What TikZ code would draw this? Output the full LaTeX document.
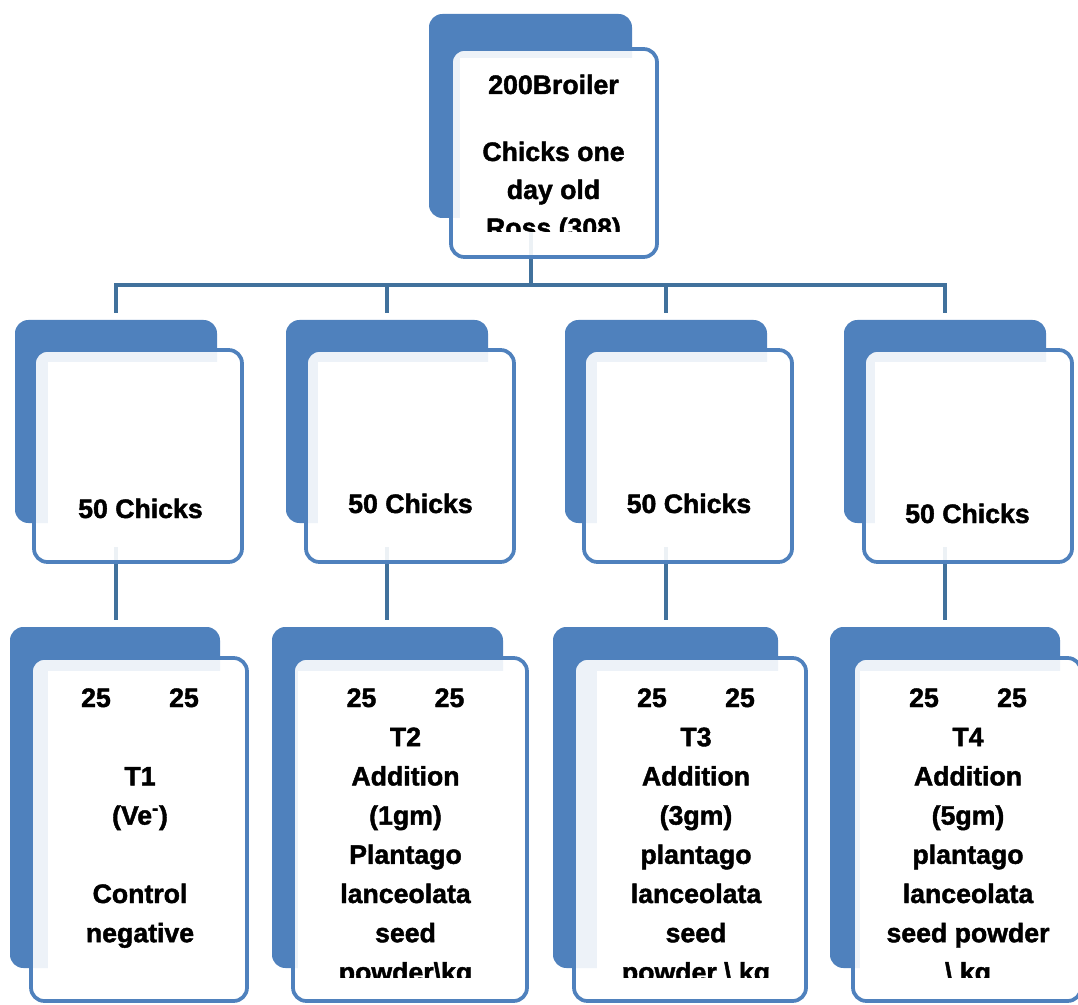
\documentclass[tikz,border=0pt]{standalone}
\usepackage{fontspec}
\setmainfont{Liberation Sans}[BoldFeatures={FakeBold=1.6}]
\usetikzlibrary{positioning,fit,backgrounds}
\definecolor{boxblue}{HTML}{4F81BD}
\definecolor{linkblue}{HTML}{41719C}
\tikzset{
  backbox/.style={fill=boxblue, rounded corners=10pt, inner sep=0pt, outer sep=0pt},
  frontbox/.style={draw=boxblue, line width=2.8pt, fill=white, fill opacity=0.9, draw opacity=1, rounded corners=10pt, inner sep=0pt, outer sep=0pt},
  textarea/.style={fill=white, inner sep=0pt, outer sep=0pt},
  chicktext/.style={font=\fontsize{20}{24}\selectfont\bfseries, anchor=base, inner sep=0pt},
  branch/.style={draw=linkblue, line width=3pt},
}

\begin{document}
\begin{tikzpicture}[x=0.75pt,y=-0.75pt]
\useasboundingbox (0,0) rectangle (1078,1005);
\clip (0,0) rectangle (1078,1005);

% top box
\node[backbox, fit={(429,14) (632,218)}] (topback) {};
\node[frontbox, fit={(451,49) (657,257)}] (top) {};
\node[textarea, fit={(460,58) (650,232)}] (topin) {};
\begin{scope}
  \clip (topin.south west) rectangle (topin.north east);
  \node[chicktext] (top-l1) at (553.5,94) {200Broiler};
  \node[chicktext] (top-l2) at (553.5,161) {Chicks one};
  \node[chicktext] (top-l3) at (553.5,199) {day old};
  \node[chicktext] (top-l4) at (553.5,237) {Ross (308)};
\end{scope}

% groups of 50
\foreach \bx/\fx/\wx/\tx/\ty [count=\i] in {15/33/48/140.5/518, 286/305/318/410.5/513, 565/583/597/689/513, 844/863/875/967.5/523}{
  \node[backbox, fit={(\bx,320) (\bx+202,523)}] (g\i-back) {};
  \node[frontbox, fit={(\fx+1,350) (\fx+209,562)}] (g\i) {};
  \node[textarea, fit={(\wx,362) (\fx+205,547)}] (g\i-in) {};
  \node[chicktext] (g\i-txt) at (\tx,\ty) {50 Chicks};
}

% treatments
\foreach \bx/\bw/\fx/\fw/\wx/\tx/\lines [count=\i] in {
    10/210/30/218/48/140/{{},T1,(Ve\textsuperscript{-}),{},Control,negative},
    272/231/292/236/298/405.5/{T2,Addition,(1gm),Plantago,lanceolata,seed,powder\textbackslash kg},
    553/225/573/234/597/696/{T3,Addition,(3gm),plantago,lanceolata,seed,powder \textbackslash{} kg},
    830/230/852/230/860/968/{T4,Addition,(5gm),plantago,lanceolata,seed powder,\textbackslash{} kg}}{
  \node[backbox, fit={(\bx,627) (\bx+\bw,968)}] (t\i-back) {};
  \node[frontbox, fit={(\fx+1,658) (\fx+\fw-1,1001)}] (t\i) {};
  \node[textarea, fit={(\wx,671) (\fx+\fw-5,977)}] (t\i-in) {};
  \begin{scope}
    \clip (t\i-in.south west) rectangle (t\i-in.north east);
    \node[chicktext] (t\i-a) at (\tx-44,707) {25};
    \node[chicktext] (t\i-b) at (\tx+44,707) {25};
    \foreach \l [count=\k] in \lines
      \node[chicktext] (t\i-l\k) at (\tx,707+39.2*\k) {\l};
  \end{scope}
}

% connectors
\begin{scope}[on background layer]
  \coordinate (bus) at (530.5,285);
  \draw[branch] (topback.center) -- (topback |- bus);
  \draw[branch, line cap=rect] (g1-back |- bus) -- (g4-back |- bus);
  \foreach \i in {1,...,4}{
    \draw[branch, shorten >=5pt] (g\i-back |- bus) -- (g\i-back.north);
    \draw[branch, shorten >=5pt] (g\i-back.center) -- (g\i-back |- t\i-back.north);
  }
\end{scope}
\end{tikzpicture}
\end{document}
